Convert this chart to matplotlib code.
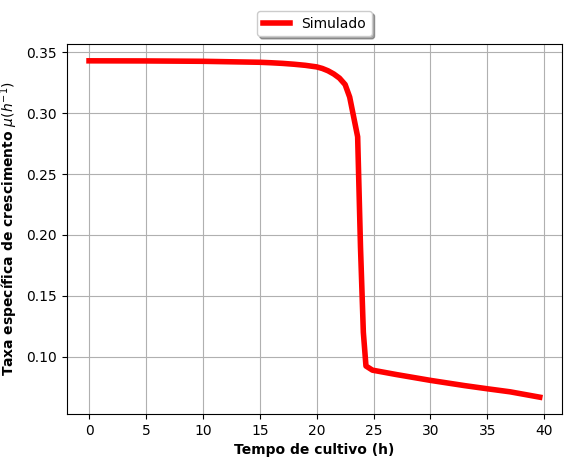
import matplotlib
matplotlib.use("Agg")
import matplotlib.pyplot as plt

tempo = [0, 5, 10, 15, 16, 17, 18, 19, 20, 20.5, 21, 21.5, 22, 22.5, 22.9, 23.6,
         23.85, 24.1, 24.33, 24.9, 27, 30, 33, 35, 37, 39.6]
mu = [0.3430, 0.3429, 0.3426, 0.3418, 0.3414, 0.3409, 0.3402, 0.3393, 0.3380,
      0.3367, 0.3348, 0.3322, 0.3288, 0.3235, 0.3132, 0.2806, 0.19, 0.12, 0.0923,
      0.0889, 0.0853, 0.0805, 0.0762, 0.0736, 0.0711, 0.0667]

fig = plt.figure(figsize=(5.75, 4.72), dpi=100)
ax = fig.add_axes([66.5/575, 1 - 414/472, (562.3-66.5)/575, (414-44)/472])
ax.plot(tempo, mu, color="red", linewidth=4, label="Simulado")
ax.grid(True)
ax.set_xlabel("Tempo de cultivo (h)", fontweight="bold")
ax.set_ylabel(r"Taxa específica de crescimento $\mu(h^{-1})$", fontweight="bold")
ax.legend(loc="upper center", bbox_to_anchor=(0.5, 1.108), shadow=True, fancybox=True)
fig.savefig("out.png", dpi=100)
